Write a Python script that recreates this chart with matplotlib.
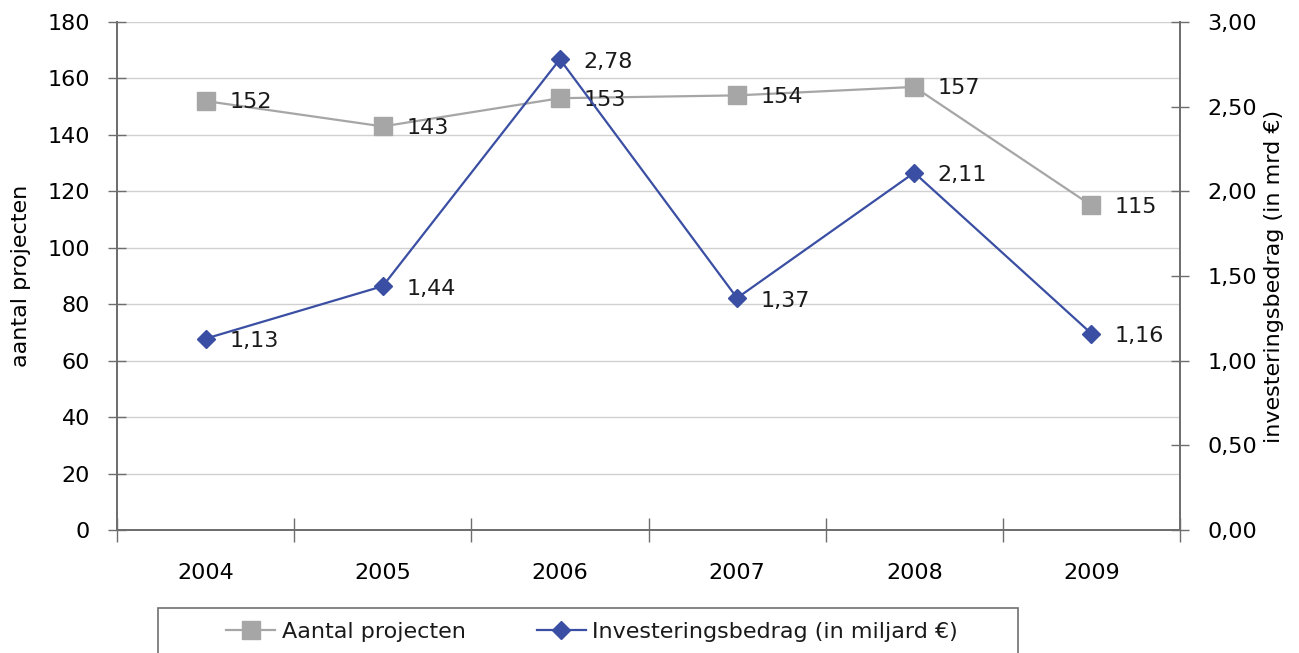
import matplotlib.pyplot as plt
from matplotlib.patches import Rectangle
from matplotlib.ticker import FuncFormatter, MultipleLocator

years = ['2004', '2005', '2006', '2007', '2008', '2009']
aantal_projecten = [152, 143, 153, 154, 157, 115]
investering = [1.13, 1.44, 2.78, 1.37, 2.11, 1.16]

grey = '#A6A6A6'
blue = '#3A4FA3'
spine_col = '#6E6E6E'

plt.rcParams['font.family'] = ['DejaVu Sans']
plt.rcParams['font.size'] = 16
plt.rcParams['text.color'] = '#1A1A1A'


def comma(v, pos):
    return f'{v:.2f}'.replace('.', ',')


def main():
    W, H = 1299, 653
    fig = plt.figure(figsize=(W / 100, H / 100), dpi=100)
    ax = fig.add_axes([117 / W, 1 - 530 / H, 1063 / W, 508 / H])
    ax2 = ax.twinx()

    x = list(range(len(years)))

    ax.plot(x, aantal_projecten, color=grey, lw=1.6, marker='s', ms=13,
            label='Aantal projecten', zorder=3)
    ax2.plot(x, investering, color=blue, lw=1.6, marker='D', ms=9,
             label='Investeringsbedrag (in miljard €)', zorder=3)

    for xi, v in zip(x, aantal_projecten):
        ax.annotate(str(v), (xi, v), xytext=(17, -1), textcoords='offset points',
                    va='center', ha='left', fontsize=16)
    for xi, v in zip(x, investering):
        ax2.annotate(f'{v:.2f}'.replace('.', ','), (xi, v), xytext=(17, -2),
                     textcoords='offset points', va='center', ha='left', fontsize=16)

    ax.set_xlim(-0.5, 5.5)
    ax.set_ylim(0, 180)
    ax2.set_ylim(0, 3)
    ax.yaxis.set_major_locator(MultipleLocator(20))
    ax2.yaxis.set_major_locator(MultipleLocator(0.5))
    ax2.yaxis.set_major_formatter(FuncFormatter(comma))

    # category boundaries as major ticks, labels on minor ticks at centres
    ax.set_xticks([i - 0.5 for i in range(len(years) + 1)])
    ax.set_xticklabels([])
    ax.set_xticks(x, minor=True)
    ax.set_xticklabels(years, minor=True)
    ax.tick_params(axis='x', which='major', direction='inout', length=17,
                   width=1, color=spine_col)
    ax.tick_params(axis='x', which='minor', length=0, pad=24, labelsize=16)

    ax.tick_params(axis='y', direction='inout', length=13, width=1,
                   color=spine_col, pad=13, labelsize=16)
    ax2.tick_params(axis='y', direction='inout', length=13, width=1,
                    color=spine_col, pad=13, labelsize=16)

    ax.grid(axis='y', color='#D0D0D0', lw=1)
    ax.set_axisbelow(True)

    for a in (ax, ax2):
        a.spines['top'].set_visible(False)
        for s in ('left', 'right', 'bottom'):
            a.spines[s].set_color(spine_col)
            a.spines[s].set_linewidth(1.3)

    ax.set_ylabel('aantal projecten', fontsize=16, labelpad=12)
    ax2.set_ylabel('investeringsbedrag (in mrd €)', fontsize=16, labelpad=5)

    h1, l1 = ax.get_legend_handles_labels()
    h2, l2 = ax2.get_legend_handles_labels()
    fig.legend(h1 + h2, l1 + l2, loc='center', ncol=2,
               bbox_to_anchor=(592 / W, 1 - 632 / H),
               frameon=False, fontsize=16,
               columnspacing=3.2, handlelength=2.2, handletextpad=0.3)
    # legend box, running off the bottom edge as in the original
    fig.patches.append(Rectangle((158 / W, -0.02), 860 / W, 0.02 + 45 / H,
                                 transform=fig.transFigure, fill=False,
                                 edgecolor='#707070', lw=1.2))

    fig.savefig('out.png', dpi=100)


if __name__ == '__main__':
    main()
